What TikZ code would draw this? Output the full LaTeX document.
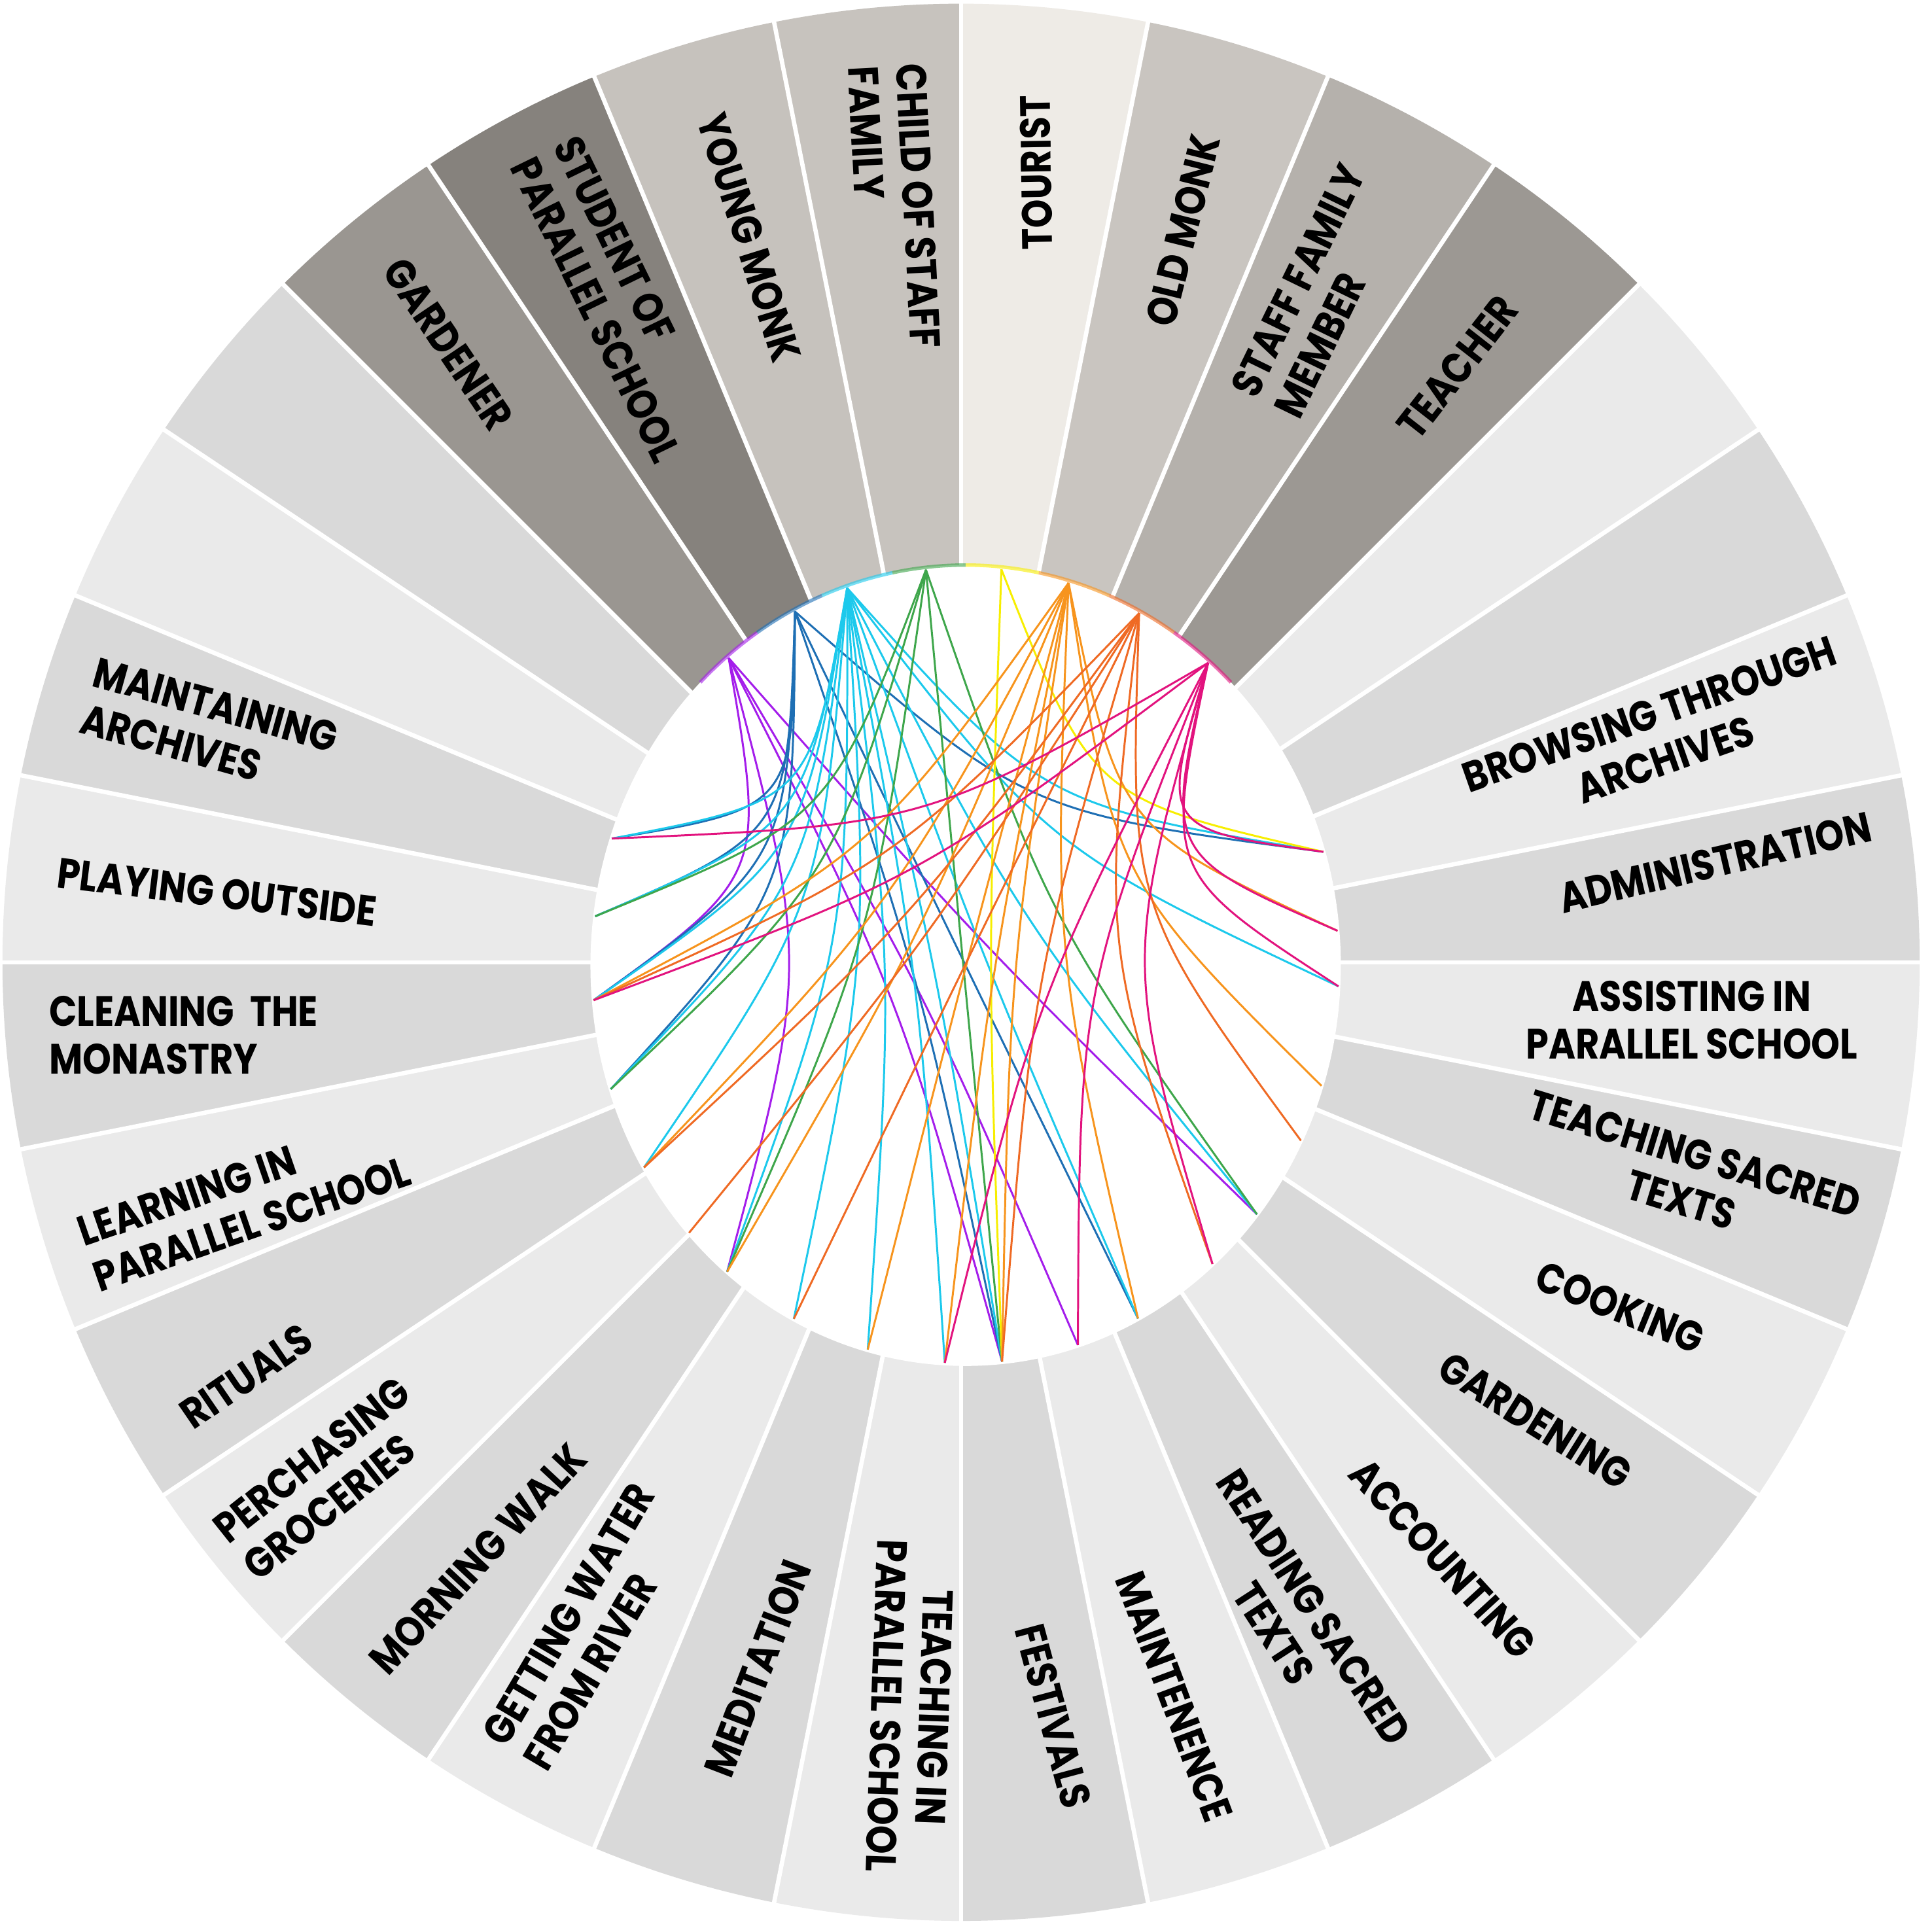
\documentclass[tikz,border=0pt]{standalone}
\usepackage{fontspec}
\setmainfont{Poppins Bold}[FakeStretch=0.86]
\usepackage{tikz}
\usepackage{xcolor}
\usetikzlibrary{calc}
\definecolor{Purple}{HTML}{A41DEB}
\definecolor{Navy}{HTML}{1E6FB4}
\definecolor{Cyan}{HTML}{1CC9EC}
\definecolor{Green}{HTML}{3EA64B}
\definecolor{Yellow}{HTML}{F7EE00}
\definecolor{Orange}{HTML}{F7941D}
\definecolor{Vermilion}{HTML}{EF6A24}
\definecolor{Magenta}{HTML}{E2137E}
\definecolor{Light}{HTML}{EAEAEA}
\definecolor{Mid}{HTML}{D9D9D9}
\definecolor{TouristBg}{HTML}{EEEBE6}
\definecolor{OldMonkBg}{HTML}{C9C5C0}
\definecolor{StaffBg}{HTML}{B5B1AC}
\definecolor{TeacherBg}{HTML}{9C9893}
\definecolor{GardenerBg}{HTML}{9A9691}
\definecolor{StudentBg}{HTML}{86827D}
\definecolor{YoungBg}{HTML}{C6C2BD}
\definecolor{ChildBg}{HTML}{C7C3BE}

\begin{document}
\begin{tikzpicture}[
  lbl/.style={font=\fontsize{9.8}{11.1}\selectfont,align=center,inner sep=0pt},
  lblleft/.style={lbl,align=left},
  chord/.style={line width=0.45pt},
  rim/.style={line width=0.8pt,opacity=0.6}]
  \useasboundingbox (-7.80,-7.87) rectangle (7.88,7.81);
  \foreach \c [count=\i from 0] in {TouristBg,OldMonkBg,StaffBg,TeacherBg,Light,Mid,Light,Mid,Light,Mid,Light,Mid,Light,Mid,Light,Mid,Light,Mid,Light,Mid,Light,Mid,Light,Mid,Light,Mid,Light,Mid,GardenerBg,StudentBg,YoungBg,ChildBg}
    \fill[\c] (0,0) -- (90-11.25*\i:7.78) arc[start angle=90-11.25*\i,delta angle=-11.25,radius=7.78] -- cycle;
  \foreach \i in {0,...,31}
    \draw[white,line width=1pt] (0,0) -- (90-11.25*\i:7.85);

  \begin{scope}[shift={(0.037,-0.026)}]
    \fill[white] (0,0) ellipse [x radius=3.045,y radius=3.25];
    \foreach \n/\a in {gardener/129.4,student/117.2,young/108.5,child/96.1,tourist/84.5,oldmonk/74,staff/62.3,teacher/49.5,
      browsing/16.6,admin/5,assisting/357,teachsacred/342.4,cooking/333.9,gardening/321.3,accounting/311.4,reading/297.5,
      maintenence/287.5,festivals/275.6,teachpar/266.8,meditation/254.8,water/242.6,walk/230.3,groceries/222.2,
      rituals/210.5,learning/198.1,cleaning/185,playing/172.9,archives/161.4}
      \coordinate (\n) at (\a:3.03 and 3.23);
    \foreach \a/\c in {135/Purple,123.75/Navy,112.5/Cyan,101.25/Green,90/Yellow,78.75/Orange,67.5/Vermilion,56.25/Magenta}
      \draw[rim,\c] (\a:3.045 and 3.25) arc[start angle=\a,delta angle=-11.25,x radius=3.045,y radius=3.25];
  \end{scope}

  \foreach \t in {cleaning,walk,festivals,maintenence,gardening}
    \draw[chord,Purple] (gardener) .. controls ($0.325*(gardener)+0.325*(\t)$) .. (\t);
  \foreach \t in {archives,playing,cleaning,learning,festivals,reading,browsing}
    \draw[chord,Navy] (student) .. controls ($0.325*(student)+0.325*(\t)$) .. (\t);
  \foreach \t in {archives,playing,cleaning,learning,rituals,walk,water,meditation,teachpar,festivals,reading,gardening,assisting,browsing}
    \draw[chord,Cyan] (young) .. controls ($0.325*(young)+0.325*(\t)$) .. (\t);
  \foreach \t in {playing,learning,walk,festivals,gardening}
    \draw[chord,Green] (child) .. controls ($0.325*(child)+0.325*(\t)$) .. (\t);
  \foreach \t in {festivals,browsing}
    \draw[chord,Yellow] (tourist) .. controls ($0.325*(tourist)+0.325*(\t)$) .. (\t);
  \foreach \t in {cleaning,rituals,walk,meditation,teachpar,festivals,reading,teachsacred,admin}
    \draw[chord,Orange] (oldmonk) .. controls ($0.325*(oldmonk)+0.325*(\t)$) .. (\t);
  \foreach \t in {cleaning,rituals,groceries,water,festivals,accounting,cooking}
    \draw[chord,Vermilion] (staff) .. controls ($0.325*(staff)+0.325*(\t)$) .. (\t);
  \foreach \t in {archives,cleaning,teachpar,maintenence,accounting,assisting,admin,browsing}
    \draw[chord,Magenta] (teacher) .. controls ($0.325*(teacher)+0.325*(\t)$) .. (\t);

  \node[lbl,rotate=91] (tourist-lbl) at (0.61,6.41) {TOURIST};
  \node[lbl,rotate=76] (oldmonk-lbl) at (1.80,5.94) {OLD MONK};
  \node[lblleft,rotate=64] (staff-lbl) at (2.91,5.45) {STAFF FAMILY\\MEMBER};
  \node[lbl,rotate=52] (teacher-lbl) at (4.03,4.83) {TEACHER};
  \node[lbl,rotate=19.3] (browsing-lbl) at (5.65,1.83) {BROWSING THROUGH\\ARCHIVES};
  \node[lbl,rotate=13.2] (admin-lbl) at (6.12,0.81) {ADMINISTRATION};
  \node[lbl,rotate=0] (assisting-lbl) at (5.93,-0.47) {ASSISTING IN\\PARALLEL SCHOOL};
  \node[lbl,rotate=-17] (teachsacred-lbl) at (5.90,-1.74) {TEACHING SACRED\\TEXTS};
  \node[lbl,rotate=-22] (cooking-lbl) at (5.35,-2.80) {COOKING};
  \node[lbl,rotate=-32] (gardening-lbl) at (4.66,-3.72) {GARDENING};
  \node[lbl,rotate=-47.5] (accounting-lbl) at (3.91,-4.84) {ACCOUNTING};
  \node[lbl,rotate=-57] (reading-lbl) at (2.70,-5.34) {READING SACRED\\TEXTS};
  \node[lbl,rotate=-69.6] (maintenence-lbl) at (1.73,-5.96) {MAINTENENCE};
  \node[lbl,rotate=-75] (festivals-lbl) at (0.75,-6.12) {FESTIVALS};
  \node[lbl,rotate=-92] (teachpar-lbl) at (-0.41,-6.04) {TEACHING IN\\PARALLEL SCHOOL};
  \node[lbl,rotate=69] (meditation-lbl) at (-1.65,-5.73) {MEDITATION};
  \node[lblleft,rotate=59.4] (water-lbl) at (-3.02,-5.39) {GETTING WATER\\FROM RIVER};
  \node[lbl,rotate=47] (walk-lbl) at (-3.92,-4.84) {MORNING WALK};
  \node[lblleft,rotate=38.5] (groceries-lbl) at (-5.15,-4.19) {PERCHASING\\GROCERIES};
  \node[lbl,rotate=34.4] (rituals-lbl) at (-5.80,-3.36) {RITUALS};
  \node[lblleft,rotate=19] (learning-lbl) at (-5.82,-1.94) {LEARNING IN\\PARALLEL SCHOOL};
  \node[lblleft,rotate=0] (cleaning-lbl) at (-6.31,-0.59) {CLEANING\ \ THE\\MONASTRY};
  \node[lbl,rotate=-7] (playing-lbl) at (-6.04,0.57) {PLAYING OUTSIDE};
  \node[lblleft,rotate=-15.5] (archives-lbl) at (-6.10,1.90) {MAINTAINING\\ARCHIVES};
  \node[lbl,rotate=-56] (gardener-lbl) at (-4.16,5.02) {GARDENER};
  \node[lblleft,rotate=-64] (student-lbl) at (-2.79,5.38) {STUDENT OF\\PARALLEL SCHOOL};
  \node[lbl,rotate=-72.7] (young-lbl) at (-1.72,5.88) {YOUNG MONK};
  \node[lblleft,rotate=-87] (child-lbl) at (-0.54,6.13) {CHILD OF STAFF\\FAMILY};
\end{tikzpicture}
\end{document}
